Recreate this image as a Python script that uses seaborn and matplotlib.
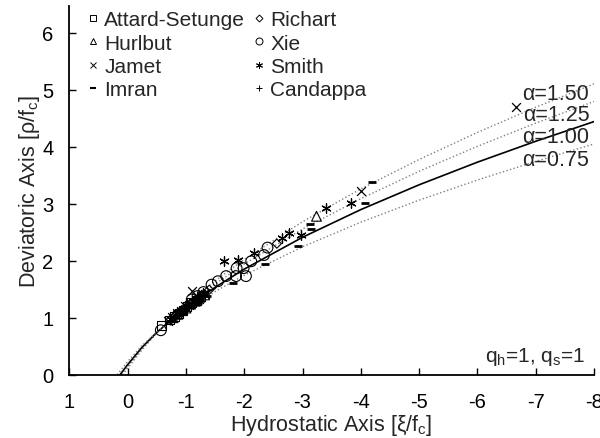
import matplotlib
matplotlib.use("Agg")
import matplotlib.pyplot as plt
from matplotlib.lines import Line2D
import seaborn as sns
import pandas as pd

# ---- model curves ----
xi_grid = [0.0, -0.25, -0.5, -1.0, -1.5, -2.0, -3.0, -4.0, -5.0, -6.0, -7.0, -8.0]
xi_start = {"1.50": 0.09, "1.25": 0.11, "1.00": 0.13, "0.75": 0.18}
rho_150 = [0.110, 0.440, 0.730, 1.223, 1.646, 2.022, 2.684, 3.260, 3.777, 4.251, 4.693, 5.103]
rho_125 = [0.140, 0.462, 0.737, 1.198, 1.592, 1.942, 2.555, 3.089, 3.569, 4.007, 4.414, 4.795]
rho_100 = [0.175, 0.484, 0.742, 1.170, 1.532, 1.852, 2.411, 2.897, 3.332, 3.729, 4.096, 4.441]
rho_075 = [0.230, 0.515, 0.750, 1.134, 1.459, 1.745, 2.244, 2.676, 3.063, 3.416, 3.743, 4.049]

# ---- experimental data ----
att_xi = [-0.58, -0.72, -0.80, -0.88, -0.95, -1.02, -1.10, -1.18, -1.26]
att_rho = [0.86, 0.96, 1.02, 1.08, 1.13, 1.19, 1.26, 1.30, 1.37]
hur_xi = [-0.78, -0.86, -0.93, -1.00, -1.08, -1.16, -1.24, -1.32, -3.24]
hur_rho = [1.00, 1.06, 1.13, 1.17, 1.24, 1.29, 1.36, 1.40, 2.78]
jam_xi = [-0.70, -0.76, -0.84, -0.92, -0.98, -1.05, -1.10, -1.22, -1.32, -4.00, -6.66]
jam_rho = [0.94, 1.01, 1.08, 1.12, 1.20, 1.23, 1.47, 1.33, 1.42, 3.23, 4.70]
imr_xi = [-0.95, -1.08, -1.20, -1.36, -1.81, -2.36, -2.93, -3.13, -3.15, -4.07, -4.19]
imr_rho = [1.09, 1.19, 1.26, 1.38, 1.61, 1.94, 2.25, 2.65, 2.55, 3.02, 3.38]
ric_xi = [-0.74, -0.82, -0.90, -0.97, -1.04, -1.12, -1.20, -1.30, -1.40, -2.56]
ric_rho = [0.97, 1.04, 1.10, 1.15, 1.22, 1.27, 1.33, 1.40, 1.49, 2.30]
xie_xi = [-0.57, -1.10, -1.20, -1.30, -1.44, -1.55, -1.69, -1.86, -1.87, -1.99, -2.03, -2.12, -2.34, -2.40]
xie_rho = [0.78, 1.32, 1.38, 1.45, 1.58, 1.64, 1.73, 1.73, 1.87, 1.87, 1.73, 1.99, 2.10, 2.23]
smi_xi = [-0.75, -0.85, -0.93, -1.02, -1.12, -1.22, -1.30, -1.65, -1.90, -2.16, -2.65, -2.76, -2.97, -3.40, -3.83]
smi_rho = [0.98, 1.08, 1.12, 1.21, 1.30, 1.34, 1.44, 1.99, 2.02, 2.14, 2.39, 2.49, 2.45, 2.92, 3.02]
can_xi = [-0.73, -0.80, -0.88, -0.96, -1.04, -1.12, -1.20, -1.28]
can_rho = [0.95, 1.01, 1.07, 1.14, 1.20, 1.26, 1.31, 1.38]

x_ticks = [1, 0, -1, -2, -3, -4, -5, -6, -7, -8]
y_ticks = [0, 1, 2, 3, 4, 5, 6]

sns.set_theme(style="white")
plt.rcParams["font.family"] = ["Liberation Sans", "DejaVu Sans"]
plt.rcParams["mathtext.default"] = "regular"
plt.rcParams["axes.unicode_minus"] = False

fig = plt.figure(figsize=(6.0, 4.39), dpi=100)
ax = fig.add_axes([0.1155, 0.1442, 0.8745, 0.8399])

curves = [("1.50", rho_150, "#808080", ":", 1.0),
          ("1.25", rho_125, "#808080", ":", 1.0),
          ("1.00", rho_100, "black", "-", 1.2),
          ("0.75", rho_075, "#808080", ":", 1.0)]
for key, rho, col, ls, lw in curves:
    df = pd.DataFrame({"xi": [xi_start[key]] + xi_grid, "rho": [0.0] + rho})
    sns.lineplot(data=df, x="xi", y="rho", ax=ax, color=col, linestyle=ls,
                 linewidth=lw, sort=False, estimator=None)

def open_pts(xs, ys, marker, s):
    sns.scatterplot(x=xs, y=ys, ax=ax, marker=marker, s=s, facecolor="none",
                    edgecolor="black", linewidth=0.8, zorder=3)

def line_pts(xs, ys, marker, s, lw=0.9):
    sns.scatterplot(x=xs, y=ys, ax=ax, marker=marker, s=s, color="black",
                    linewidth=lw, zorder=3)

open_pts(att_xi, att_rho, "s", 40)
open_pts(hur_xi, hur_rho, "^", 50)
line_pts(jam_xi, jam_rho, "x", 40)
line_pts(imr_xi, imr_rho, "_", 40, lw=2.0)
open_pts(ric_xi, ric_rho, "D", 22)
open_pts(xie_xi, xie_rho, "o", 60)
line_pts(smi_xi, smi_rho, (6, 2, 0), 45)
line_pts(can_xi, can_rho, "+", 35)

ax.set_xlim(1, -8)
ax.set_ylim(0, 6.47)
ax.set_xticks(x_ticks)
ax.set_yticks(y_ticks)
ax.tick_params(direction="in", length=5, width=1, labelsize=14.5, pad=12.5,
               colors="black", bottom=True, left=True)
ax.tick_params(axis="y", pad=11.5)
for side in ["top", "right"]:
    ax.spines[side].set_visible(False)
for side in ["left", "bottom"]:
    ax.spines[side].set_color("black")
    ax.spines[side].set_linewidth(1.3)

ax.set_xlabel("Hydrostatic Axis [ξ/f$_c$]", fontsize=15.5, labelpad=1)
ax.set_ylabel("Deviatoric Axis [ρ/f$_c$]", fontsize=15.5, labelpad=0)

for lab, yv in [("1.50", 4.93), ("1.25", 4.56), ("1.00", 4.18), ("0.75", 3.77)]:
    ax.text(-7.92, yv, "α=" + lab, ha="right", va="center", fontsize=15.5)
ax.text(-7.86, 0.33, "q$_h$=1, q$_s$=1", ha="right", va="center", fontsize=15)

handles = [
    Line2D([], [], marker="s", ls="", mfc="none", mec="black", ms=4.5, mew=0.7),
    Line2D([], [], marker="^", ls="", mfc="none", mec="black", ms=4.5, mew=0.7),
    Line2D([], [], marker="x", ls="", color="black", ms=4.5, mew=0.7),
    Line2D([], [], marker="_", ls="", color="black", ms=5, mew=1.5),
    Line2D([], [], marker="D", ls="", mfc="none", mec="black", ms=3.5, mew=0.7),
    Line2D([], [], marker="o", ls="", mfc="none", mec="black", ms=5, mew=0.7),
    Line2D([], [], marker=(6, 2, 0), ls="", color="black", ms=5, mew=0.7),
    Line2D([], [], marker="+", ls="", color="black", ms=5, mew=0.7),
]
labels = ["Attard-Setunge", "Hurlbut", "Jamet", "Imran",
          "Richart", "Xie", "Smith", "Candappa"]
ax.legend(handles, labels, ncol=2, loc="upper left",
          bbox_to_anchor=(0.122, 1.0), bbox_transform=fig.transFigure,
          frameon=False, fontsize=15, handlelength=0.8, handletextpad=0.15,
          columnspacing=0.25, labelspacing=0.2, borderpad=0.05)

fig.savefig("out.png", dpi=100)
